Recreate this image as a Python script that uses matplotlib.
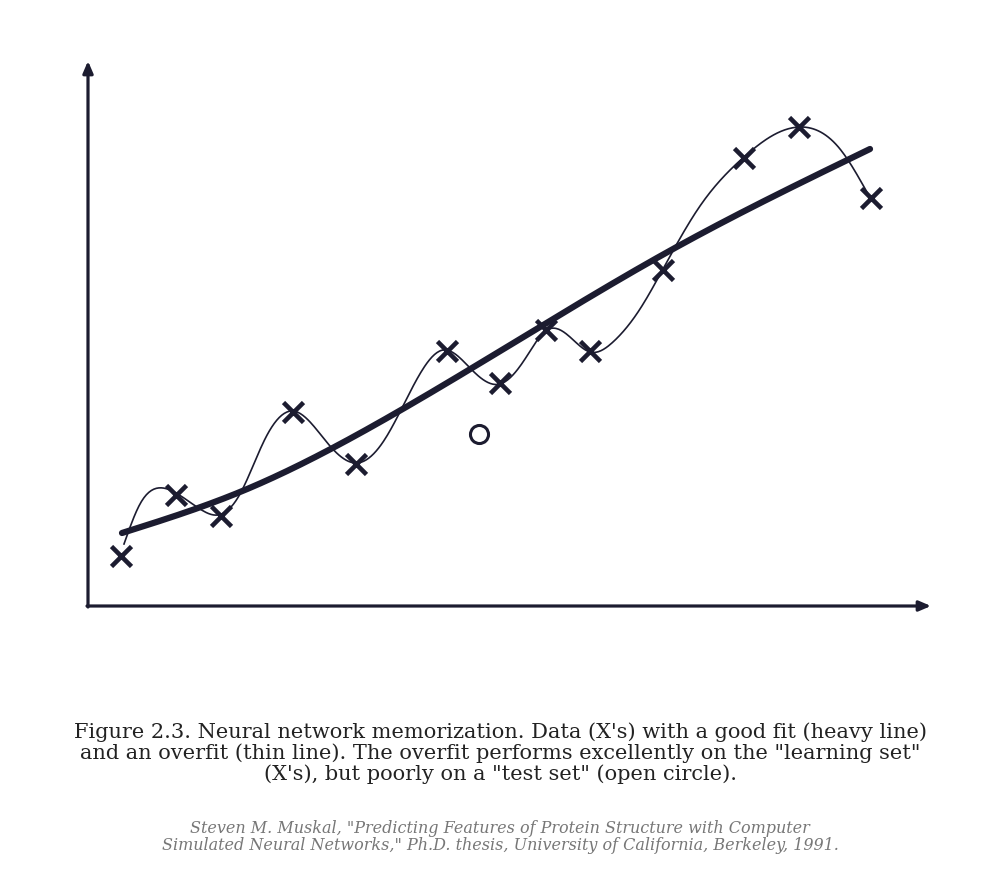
import numpy as np
import matplotlib.pyplot as plt

# data (origin at the axis corner, y up)
data_x = [33, 88, 133, 205, 268, 359, 412, 458, 502, 575, 656, 711, 783]
data_y = [50, 111, 90, 194, 142, 255, 223, 276, 255, 336, 448, 479, 408]
test_x = [391]
test_y = [172]
# heavy line (good fit)
fit_x = [34, 152, 292, 432, 585, 782]
fit_y = [73, 114, 184, 267, 357, 457]
# thin line (overfit)
over_x = [36, 52, 70, 88, 112, 130, 152, 177, 205, 242, 269, 297, 329, 355, 385,
          412, 437, 459, 482, 502, 525, 552, 575, 612, 656, 682, 712, 752, 780]
over_y = [62, 102, 118, 113, 97, 91, 112, 167, 195, 160, 143, 167, 227, 256, 235,
          222, 247, 276, 269, 254, 264, 297, 337, 400, 449, 469, 479, 457, 412]

ink = '#1c1c30'


def natural_spline(x, y, n=600):
    x = np.asarray(x, float)
    y = np.asarray(y, float)
    m = len(x)
    h = np.diff(x)
    A = np.zeros((m, m))
    r = np.zeros(m)
    A[0, 0] = A[-1, -1] = 1
    for i in range(1, m - 1):
        A[i, i - 1] = h[i - 1]
        A[i, i] = 2 * (h[i - 1] + h[i])
        A[i, i + 1] = h[i]
        r[i] = 6 * ((y[i + 1] - y[i]) / h[i] - (y[i] - y[i - 1]) / h[i - 1])
    M = np.linalg.solve(A, r)
    xs = np.linspace(x[0], x[-1], n)
    k = np.clip(np.searchsorted(x, xs) - 1, 0, m - 2)
    t0 = x[k + 1] - xs
    t1 = xs - x[k]
    hk = h[k]
    ys = (M[k] * t0**3 + M[k + 1] * t1**3) / (6 * hk) \
        + (y[k] / hk - M[k] * hk / 6) * t0 + (y[k + 1] / hk - M[k + 1] * hk / 6) * t1
    return xs, ys


fig = plt.figure(figsize=(10, 8.78), dpi=100)
ax = fig.add_axes([0, 0, 1, 1])
ax.set_xlim(-88, 912)
ax.set_ylim(-271, 607)
ax.axis('off')

# axes with arrow heads
arrow = dict(arrowstyle='-|>,head_length=0.7,head_width=0.3', lw=2.3, color=ink, shrinkA=0, shrinkB=0)
ax.annotate('', xy=(843, 0), xytext=(-1, 0), arrowprops=arrow)
ax.annotate('', xy=(0, 545), xytext=(0, -1), arrowprops=arrow)

# overfit (thin) and good fit (heavy)
sx, sy = natural_spline(over_x, over_y)
ax.plot(sx, sy, color=ink, lw=1.2)
fx, fy = natural_spline(fit_x, fit_y)
ax.plot(fx, fy, color=ink, lw=4.5, solid_capstyle='round')

ax.plot(data_x, data_y, 'x', color=ink, ms=15, mew=3.3)
ax.plot(test_x, test_y, 'o', mfc='white', mec=ink, ms=13, mew=2.2)

caption = ('Figure 2.3. Neural network memorization. Data (X\'s) with a good fit (heavy line)\n'
           'and an overfit (thin line). The overfit performs excellently on the "learning set"\n'
           '(X\'s), but poorly on a "test set" (open circle).')
fig.text(0.5, 1 - 753 / 878, caption, ha='center', va='center', fontsize=15,
         family='DejaVu Serif', color='#222222', linespacing=1.08)

cite = ('Steven M. Muskal, "Predicting Features of Protein Structure with Computer\n'
        'Simulated Neural Networks," Ph.D. thesis, University of California, Berkeley, 1991.')
fig.text(0.5, 1 - 837 / 878, cite, ha='center', va='center', fontsize=11.5,
         family='DejaVu Serif', style='italic', color='#777777', linespacing=1.05)

fig.savefig('out.png', dpi=100, facecolor='white')
